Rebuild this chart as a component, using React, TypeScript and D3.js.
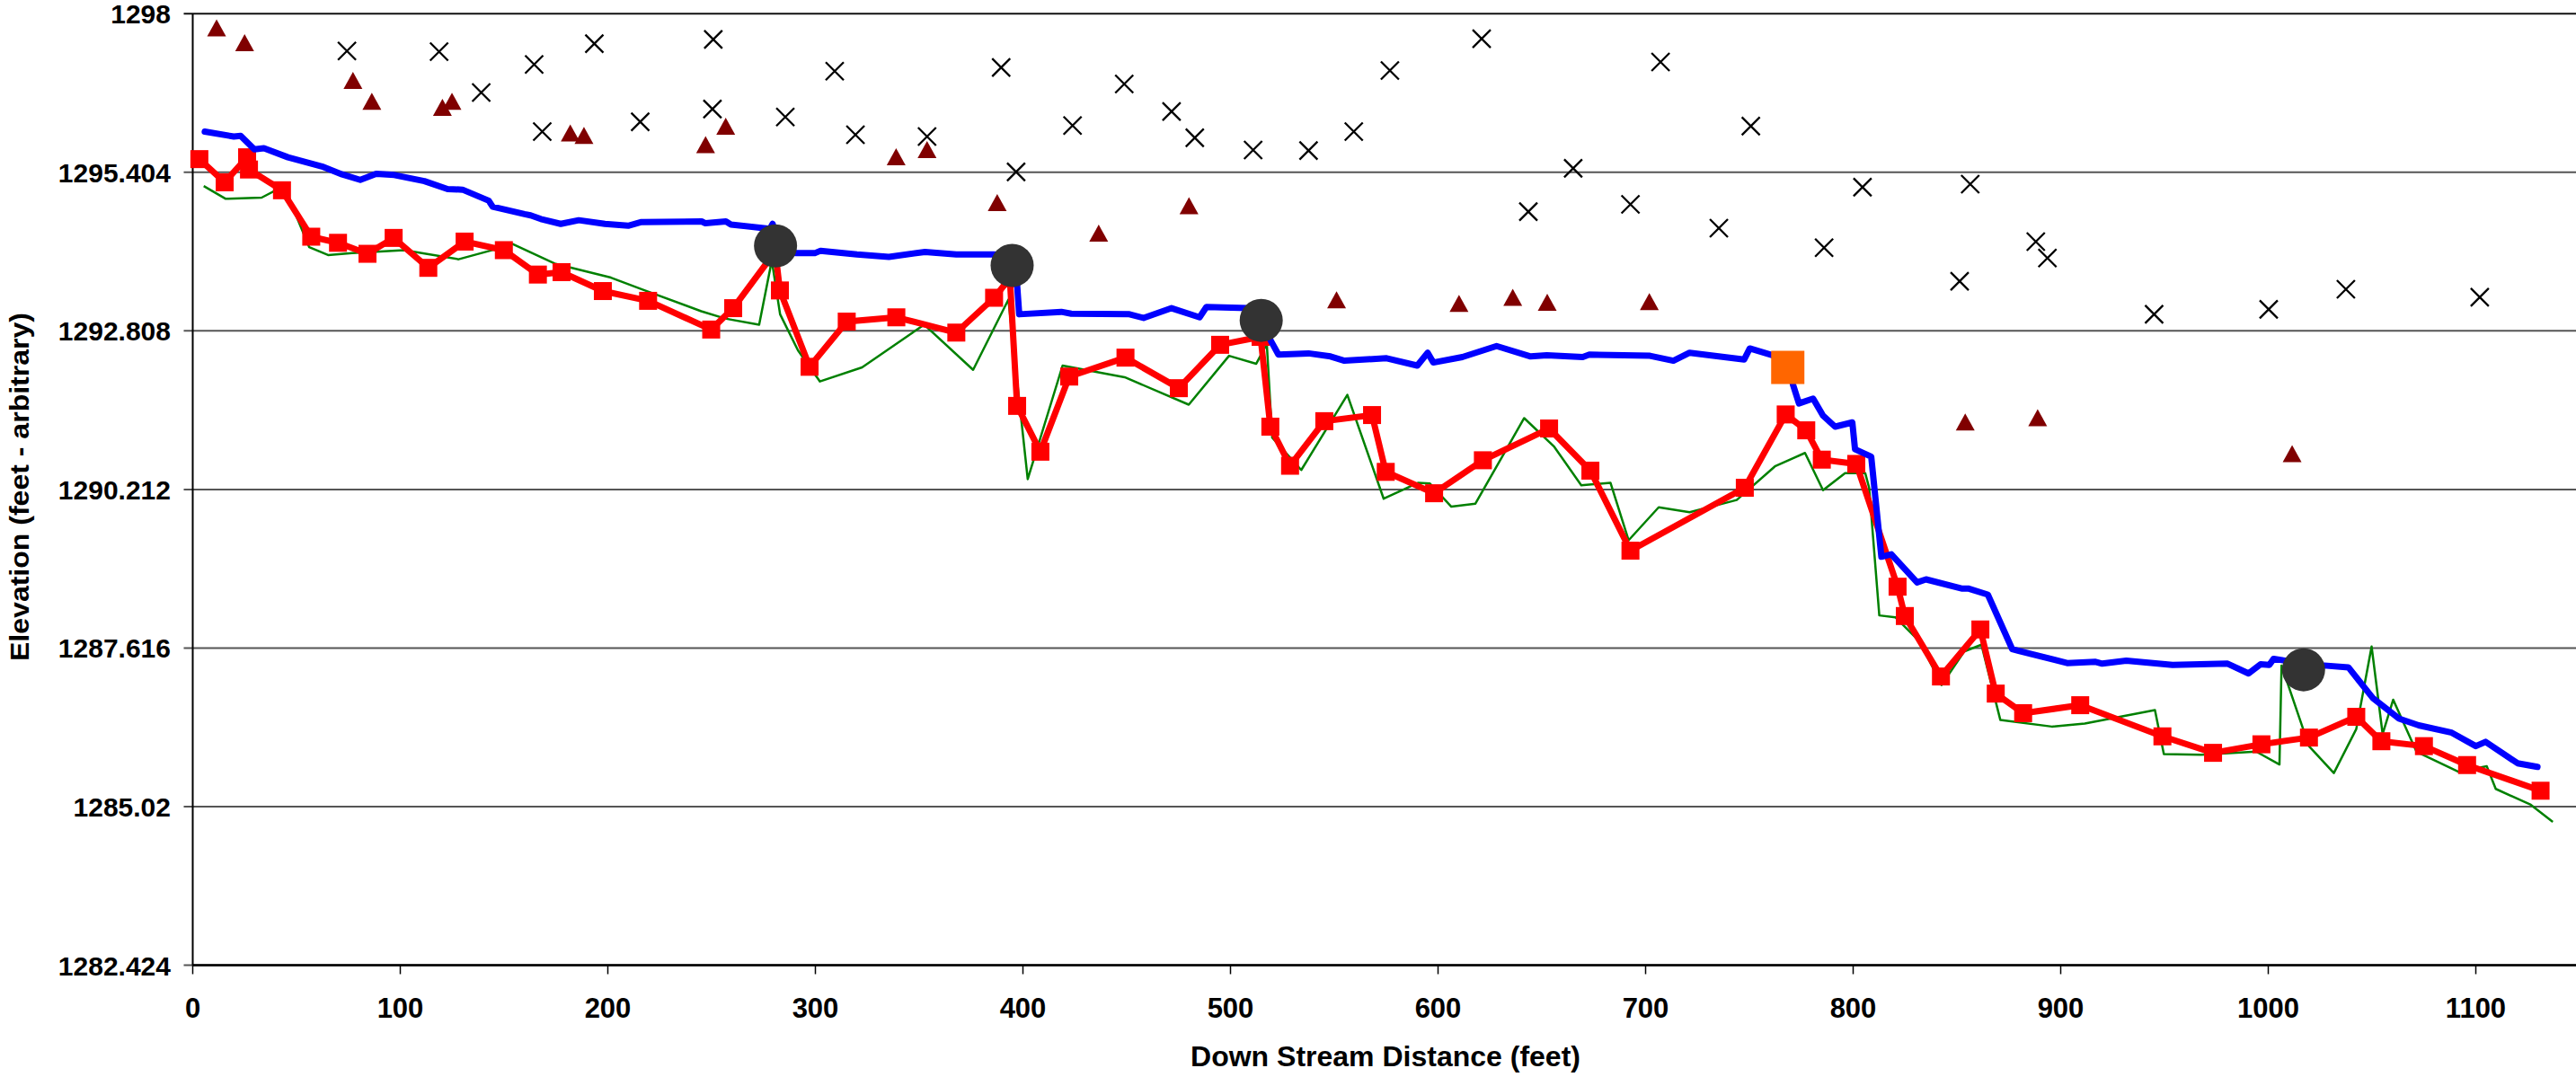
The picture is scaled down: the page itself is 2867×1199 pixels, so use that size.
import * as d3 from 'd3'

const WIDTH = 2867
const HEIGHT = 1199

const X_TICKS = [0, 100, 200, 300, 400, 500, 600, 700, 800, 900, 1000, 1100]
const Y_TICKS = [1282.424, 1285.02, 1287.616, 1290.212, 1292.808, 1295.404, 1298]
const Y_TICK_LABELS = ['1282.424', '1285.02', '1287.616', '1290.212', '1292.808', '1295.404', '1298']

// water surface (blue)
const waterSurface: [number, number][] = [
  [5.8, 1296.07], [19.8, 1295.99], [23.1, 1296.0], [29.7, 1295.78], [34.3, 1295.8],
  [45.9, 1295.65], [62.3, 1295.5], [72.0, 1295.37], [80.7, 1295.28], [88.4, 1295.38],
  [97.1, 1295.36], [111.6, 1295.26], [122.8, 1295.13], [130.0, 1295.12], [142.6, 1294.94],
  [144.5, 1294.84], [159.9, 1294.72], [162.8, 1294.7], [167.7, 1294.64], [177.3, 1294.56],
  [186.0, 1294.62], [198.6, 1294.56], [209.8, 1294.53], [216.2, 1294.59], [245.2, 1294.6],
  [247.0, 1294.57], [256.9, 1294.6], [259.3, 1294.55], [278.1, 1294.48], [279.4, 1294.56],
  [283.8, 1294.09], [291.1, 1294.08], [299.7, 1294.08], [302.5, 1294.12], [320.0, 1294.06],
  [335.4, 1294.02], [352.8, 1294.1], [367.9, 1294.06], [385.7, 1294.06], [395.5, 1294.05],
  [397.2, 1293.56], [398.2, 1293.08], [418.5, 1293.12], [423.3, 1293.09], [451.3, 1293.08],
  [458.1, 1293.02], [471.6, 1293.18], [485.1, 1293.03], [488.4, 1293.2], [508.6, 1293.18],
  [514.8, 1293.0], [519.2, 1292.66], [523.1, 1292.42], [537.6, 1292.44], [548.2, 1292.39],
  [554.9, 1292.32], [575.2, 1292.36], [590.0, 1292.24], [595.0, 1292.45], [597.7, 1292.29],
  [611.7, 1292.38], [628.2, 1292.56], [644.6, 1292.39], [652.4, 1292.41], [669.7, 1292.38],
  [672.9, 1292.42], [702.1, 1292.4], [713.4, 1292.32], [721.2, 1292.45], [747.5, 1292.34],
  [750.2, 1292.52], [761.0, 1292.41], [768.6, 1292.3], [771.0, 1291.93], [773.9, 1291.62],
  [780.7, 1291.7], [785.5, 1291.42], [791.3, 1291.24], [799.6, 1291.31], [800.9, 1290.87],
  [808.7, 1290.75], [813.6, 1289.11], [818.4, 1289.15], [830.8, 1288.69], [835.1, 1288.74],
  [852.2, 1288.59], [855.4, 1288.59], [864.9, 1288.49], [876.6, 1287.6], [879.8, 1287.57],
  [903.1, 1287.37], [916.8, 1287.39], [920.0, 1287.36], [931.6, 1287.41], [953.9, 1287.34],
  [980.4, 1287.36], [990.5, 1287.2], [996.3, 1287.35], [1000.5, 1287.34], [1002.6, 1287.44],
  [1007.9, 1287.41], [1017.1, 1287.34], [1026.9, 1287.33], [1038.6, 1287.3], [1050.3, 1286.8],
  [1063.0, 1286.46], [1072.5, 1286.35], [1088.4, 1286.23], [1100.0, 1286.01], [1104.7, 1286.08],
  [1120.1, 1285.73], [1129.7, 1285.67],
]

// thalweg (red with squares)
const thalweg: [number, number][] = [
  [3.2, 1295.62], [15.4, 1295.24], [26.2, 1295.65], [27.1, 1295.45], [43.0, 1295.11],
  [57.1, 1294.35], [70.0, 1294.25], [84.2, 1294.07], [96.8, 1294.33], [113.5, 1293.84],
  [131.0, 1294.27], [149.9, 1294.13], [166.3, 1293.73], [177.7, 1293.77], [197.6, 1293.46],
  [219.4, 1293.3], [249.8, 1292.83], [260.4, 1293.18], [280.7, 1294.11], [282.9, 1293.47],
  [297.2, 1292.22], [315.1, 1292.96], [339.0, 1293.03], [367.9, 1292.78], [386.1, 1293.35],
  [393.7, 1293.67], [397.2, 1291.58], [408.4, 1290.83], [422.3, 1292.06], [449.4, 1292.37],
  [475.1, 1291.87], [495.0, 1292.58], [514.5, 1292.71], [519.2, 1291.24], [528.7, 1290.6],
  [545.2, 1291.33], [568.2, 1291.43], [574.8, 1290.5], [598.1, 1290.15], [621.6, 1290.69],
  [653.5, 1291.21], [673.4, 1290.52], [692.7, 1289.21], [747.8, 1290.24], [767.5, 1291.44],
  [777.4, 1291.18], [784.9, 1290.7], [801.5, 1290.63], [821.4, 1288.62], [824.9, 1288.14],
  [842.3, 1287.15], [861.3, 1287.92], [868.7, 1286.87], [881.9, 1286.55], [909.4, 1286.68],
  [949.0, 1286.17], [973.4, 1285.9], [996.7, 1286.04], [1019.6, 1286.15], [1042.4, 1286.49],
  [1054.5, 1286.09], [1075.0, 1286.01], [1095.8, 1285.7], [1131.2, 1285.28],
]

// bed profile (green)
const bedProfile: [number, number][] = [
  [5.3, 1295.18], [15.9, 1294.97], [33.2, 1294.99], [43.9, 1295.18], [56.1, 1294.18],
  [65.2, 1294.05], [76.8, 1294.08], [101.9, 1294.13], [128.1, 1293.98], [146.4, 1294.15],
  [154.1, 1294.23], [174.4, 1293.91], [201.5, 1293.68], [217.9, 1293.47], [245.0, 1293.13],
  [256.5, 1293.01], [272.9, 1292.91], [279.0, 1293.96], [283.0, 1293.08], [291.6, 1292.49],
  [302.2, 1291.98], [322.5, 1292.21], [352.4, 1292.91], [376.0, 1292.17], [393.0, 1293.32],
  [402.3, 1290.38], [419.1, 1292.24], [449.0, 1292.05], [479.9, 1291.6], [499.3, 1292.4],
  [512.4, 1292.27], [517.5, 1292.59], [520.1, 1291.06], [534.1, 1290.53], [556.3, 1291.76],
  [573.8, 1290.06], [590.3, 1290.32], [596.1, 1290.31], [606.4, 1289.93], [618.0, 1289.98],
  [641.5, 1291.38], [656.0, 1290.91], [669.0, 1290.28], [683.1, 1290.32], [691.8, 1289.38],
  [706.3, 1289.92], [721.2, 1289.84], [743.9, 1290.04], [762.3, 1290.59], [776.8, 1290.81],
  [785.5, 1290.2], [796.1, 1290.48], [805.8, 1290.48], [807.7, 1290.24], [812.6, 1288.15],
  [820.3, 1288.12], [832.1, 1287.72], [842.6, 1287.01], [853.5, 1287.56], [861.8, 1287.67],
  [870.9, 1286.44], [895.7, 1286.33], [911.6, 1286.38], [945.4, 1286.6], [949.7, 1285.88],
  [967.7, 1285.87], [994.2, 1285.92], [1005.4, 1285.71], [1006.4, 1287.33], [1019.6, 1286.01],
  [1031.6, 1285.57], [1042.4, 1286.29], [1049.8, 1287.64], [1055.1, 1286.21], [1060.2, 1286.77],
  [1071.4, 1285.92], [1091.6, 1285.59], [1105.3, 1285.68], [1109.6, 1285.31], [1126.5, 1285.05],
  [1137.1, 1284.77],
]

// triangles (dark red)
const bankTriangles: [number, number][] = [
  [11.5, 1297.76], [25.0, 1297.52], [77.2, 1296.9], [86.3, 1296.56], [120.3, 1296.46],
  [124.9, 1296.56], [181.9, 1296.04], [188.5, 1296.0], [247.1, 1295.85], [256.8, 1296.15],
  [338.9, 1295.65], [353.8, 1295.77], [387.6, 1294.9], [436.5, 1294.4], [480.0, 1294.85],
  [551.1, 1293.31], [610.1, 1293.25], [636.0, 1293.35], [652.6, 1293.27], [701.8, 1293.28],
  [854.0, 1291.31], [888.9, 1291.38], [1011.5, 1290.79],
]

// crosses (black)
const bankCrosses: [number, number][] = [
  [74.3, 1297.39], [118.7, 1297.38], [139.0, 1296.71], [164.5, 1297.17], [168.4, 1296.07],
  [193.5, 1297.51], [215.6, 1296.23], [250.8, 1297.58], [250.4, 1296.44], [285.5, 1296.31],
  [309.3, 1297.06], [319.3, 1296.02], [353.8, 1295.99], [389.5, 1297.12], [396.7, 1295.41],
  [423.9, 1296.17], [448.8, 1296.85], [471.6, 1296.4], [482.8, 1295.97], [510.9, 1295.77],
  [537.6, 1295.76], [559.4, 1296.07], [576.8, 1297.07], [621.0, 1297.59], [643.5, 1294.76],
  [665.1, 1295.47], [692.7, 1294.88], [707.2, 1297.21], [735.3, 1294.49], [750.7, 1296.16],
  [804.5, 1295.16], [856.4, 1295.21], [786.0, 1294.17], [851.3, 1293.62], [888.0, 1294.27],
  [893.6, 1294.0], [945.0, 1293.08], [1000.2, 1293.16], [1037.4, 1293.49], [1101.9, 1293.36],
]

// pools (gray circles)
const pools: [number, number][] = [
  [280.8, 1294.2], [394.8, 1293.88], [514.8, 1292.98], [1017.0, 1287.26],
]

// single orange point
const riffle: [number, number][] = [[768.5, 1292.21]]

const FONT = '"Liberation Sans", Arial, sans-serif'

export default function App() {
  const x = d3.scaleLinear().domain([0, 1200]).range([214.5, 2986.5])
  const y = d3.scaleLinear().domain([1282.424, 1298]).range([1074.5, 15.3])
  const left = x(0)
  const bottom = y(1282.424)

  const line = d3.line<[number, number]>().x(d => x(d[0])).y(d => y(d[1]))

  return (
    <div style={{ position: 'fixed', left: 0, top: 0 }}>
      <svg width={WIDTH} height={HEIGHT} style={{ display: 'block', background: '#fff' }}>
        {/* grid */}
        {Y_TICKS.map((t, i) => (
          <line key={'g' + i} x1={left - 10} x2={WIDTH} y1={y(t)} y2={y(t)}
            stroke={i === Y_TICKS.length - 1 ? '#111' : '#555'} strokeWidth={2} />
        ))}
        {Y_TICKS.map((t, i) => (
          <text key={'yl' + i} x={190} y={y(t) + 11} textAnchor="end"
            fontFamily={FONT} fontWeight="bold" fontSize={30}>{Y_TICK_LABELS[i]}</text>
        ))}
        {/* axes */}
        <line x1={left} x2={left} y1={y(1298)} y2={bottom} stroke="#000" strokeWidth={2} />
        <line x1={left} x2={WIDTH} y1={bottom} y2={bottom} stroke="#000" strokeWidth={2.5} />
        {X_TICKS.map(t => (
          <g key={'x' + t}>
            <line x1={x(t)} x2={x(t)} y1={bottom} y2={bottom + 10} stroke="#000" strokeWidth={1.5} />
            <text x={x(t)} y={1133} textAnchor="middle" fontFamily={FONT} fontWeight="bold" fontSize={31}>{t}</text>
          </g>
        ))}
        <text x={1542} y={1187} textAnchor="middle" fontFamily={FONT} fontWeight="bold" fontSize={32}>
          Down Stream Distance (feet)
        </text>
        <text transform="translate(32,542) rotate(-90)" textAnchor="middle" fontFamily={FONT}
          fontWeight="bold" fontSize={30} textLength={388} lengthAdjust="spacingAndGlyphs">
          Elevation (feet - arbitrary)
        </text>

        {/* series */}
        <path d={line(bedProfile) ?? ''} fill="none" stroke="#008000" strokeWidth={2.5} strokeLinejoin="round" />
        <path d={line(thalweg) ?? ''} fill="none" stroke="#FF0000" strokeWidth={7} strokeLinejoin="round" />
        {thalweg.map((d, i) => (
          <rect key={'r' + i} x={x(d[0]) - 10} y={y(d[1]) - 10} width={20} height={20} fill="#FF0000" />
        ))}
        <path d={line(waterSurface) ?? ''} fill="none" stroke="#0000FF" strokeWidth={7}
          strokeLinejoin="round" strokeLinecap="round" />
        {bankTriangles.map((d, i) => {
          const cx = x(d[0]), cy = y(d[1])
          return <path key={'t' + i} d={`M${cx},${cy - 10}L${cx + 10.5},${cy + 9}L${cx - 10.5},${cy + 9}Z`} fill="#800000" />
        })}
        {bankCrosses.map((d, i) => {
          const cx = x(d[0]), cy = y(d[1])
          return (
            <path key={'c' + i} d={`M${cx - 10},${cy - 10}L${cx + 10},${cy + 10}M${cx - 10},${cy + 10}L${cx + 10},${cy - 10}`}
              stroke="#000" strokeWidth={2.3} fill="none" />
          )
        })}
        {pools.map((d, i) => (
          <circle key={'p' + i} cx={x(d[0])} cy={y(d[1])} r={24} fill="#333333" />
        ))}
        {riffle.map((d, i) => (
          <rect key={'o' + i} x={x(d[0]) - 18.5} y={y(d[1]) - 18.5} width={37} height={37} fill="#FF6600" />
        ))}
      </svg>
    </div>
  )
}
